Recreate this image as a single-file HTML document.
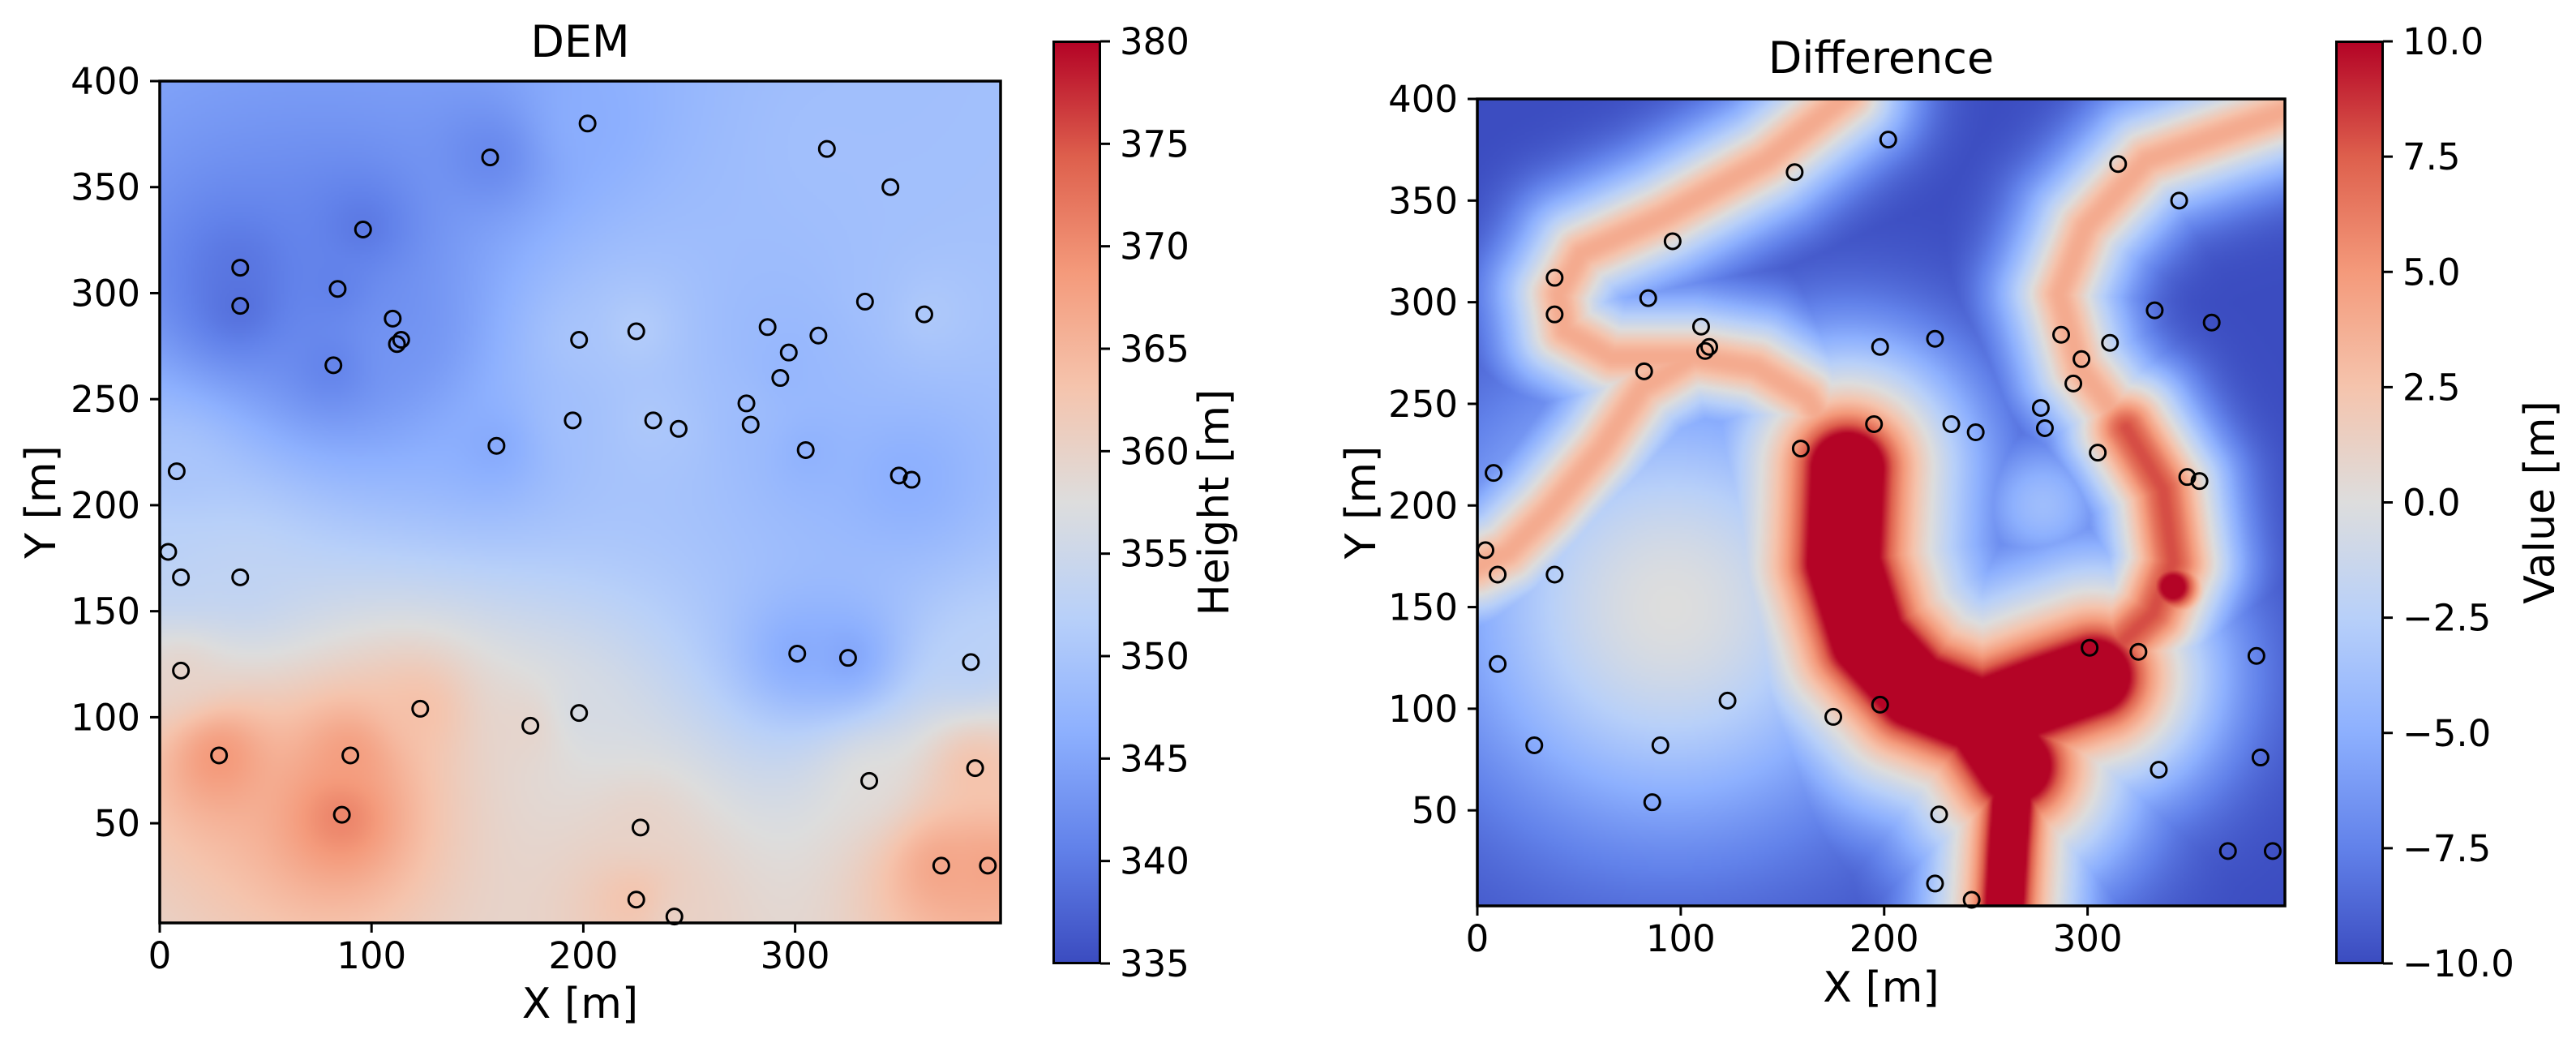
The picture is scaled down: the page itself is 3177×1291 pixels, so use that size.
<!DOCTYPE html>
<html><head><meta charset="utf-8">
<style>
html,body{margin:0;padding:0;background:#fff;}
#root{position:relative;width:3177px;height:1291px;overflow:hidden;background:#fff;font-family:"DejaVu Sans","Liberation Sans",sans-serif;}
canvas{position:absolute;}
svg{position:absolute;left:0;top:0;}
.cbar{position:absolute;box-sizing:border-box;border:3px solid #000;background:linear-gradient(to top,#3b4cc0 0%,#6282ea 12.5%,#8db0fe 25%,#b8d0f9 37.5%,#dddddd 50%,#f5c4ad 62.5%,#f49a7b 75%,#de604d 87.5%,#b40426 100%);}
</style></head>
<body>
<div id="root">
<canvas id="demCanvas" width="397" height="397" style="left:197px;top:100px;width:1037px;height:1038px;"></canvas>
<canvas id="diffCanvas" width="397" height="397" style="left:1822px;top:122px;width:996px;height:995px;"></canvas>
<div class="cbar" style="left:1298px;top:50px;width:60px;height:1139px;"></div>
<div class="cbar" style="left:2880px;top:50px;width:60px;height:1139px;"></div>
<svg id="ov" width="3177" height="1291"></svg>
</div>
<script>
// ---- data ----
const pointsX = [202,156,315,345,96,38,38,84,110,112,114,82,198,225,333,361,287,297,311,293,277,279,195,233,245,159,305,349,355,8,4,10,38,10,301,325,383,123,175,198,28,90,86,335,385,227,369,391,225,243];
const pointsY = [380,364,368,350,330,312,294,302,288,276,278,266,278,282,296,290,284,272,280,260,248,238,240,240,236,228,226,214,212,216,178,166,166,122,130,128,126,104,96,102,82,82,54,70,76,48,30,30,14,6];
const demHeights = [346,341,349,349,339,339,338,340,342,343,343,340,350,352,349,351,348,347,348,347,349,348,349,351,350,345,346,346,346,350,352,353,353,360,345,344,352,364,360,356,370,369,372,358,364,360,368,368,364,360];
const xTicks = [0,100,200,300];
const yTicks = [50,100,150,200,250,300,350,400];
const demCbarTicks = [335,340,345,350,355,360,365,370,375,380];
const diffCbarTicks = [-10,-7.5,-5,-2.5,0,2.5,5,7.5,10];
const diffCbarLabels = ["\u221210.0","\u22127.5","\u22125.0","\u22122.5","0.0","2.5","5.0","7.5","10.0"];
// difference field features (polylines in data coords)
const upperBandX = [182,142,91,51,40,43,66,106,137,162,175];
const upperBandY = [402,370,342,324,304,286,273,273,268,253,233];
const leftBranchX = [106,81,61,35,15,0];
const leftBranchY = [273,258,228,197,177,170];
const rightBandX = [400,329,299,286,296,319];
const rightBandY = [395,370,337,304,268,238];
const rightLowerX = [319,337,342,332,311];
const rightLowerY = [238,208,172,147,127];
const coreX = [182,180,192,215,248,264];
const coreY = [218,172,134,109,96,72];
const coreLowX = [264,261,259];
const coreLowY = [72,33,0];
const coreBranchX = [248,280,303];
const coreBranchY = [96,108,116];

// ---- layout ----
const L = {x0:197,x1:1234,y0:1138,y1:100,dx:[0,397],dy:[3,400]};
const R = {x0:1822,x1:2818,y0:1117,y1:122,dx:[0,397],dy:[3,400]};
function sx(a,v){return a.x0+(v-a.dx[0])/(a.dx[1]-a.dx[0])*(a.x1-a.x0);}
function sy(a,v){return a.y0+(v-a.dy[0])/(a.dy[1]-a.dy[0])*(a.y1-a.y0);}

const CM=[[59,76,192],[98,130,234],[141,176,254],[184,208,249],[221,221,221],[245,196,173],[244,154,123],[222,96,77],[180,4,38]];
function cmap(t){t=Math.max(0,Math.min(1,t));const f=t*8;const i=Math.min(7,Math.floor(f));const r=f-i;const a=CM[i],b=CM[i+1];return [a[0]+(b[0]-a[0])*r,a[1]+(b[1]-a[1])*r,a[2]+(b[2]-a[2])*r];}

function drawField(id,fn,vmin,vmax){
  const c=document.getElementById(id),ctx=c.getContext('2d');
  const img=ctx.createImageData(397,397);
  for(let j=0;j<397;j++){const y=400-j-0.5;for(let i=0;i<397;i++){const x=i+0.5;
    const col=cmap((fn(x,y)-vmin)/(vmax-vmin));const k=(j*397+i)*4;
    img.data[k]=col[0];img.data[k+1]=col[1];img.data[k+2]=col[2];img.data[k+3]=255;}}
  ctx.putImageData(img,0,0);
}
function dem(x,y){let s=0,w=0;for(let k=0;k<pointsX.length;k++){const dx=x-pointsX[k],dy=y-pointsY[k];const ww=1/Math.pow(dx*dx+dy*dy+150,1.2);s+=ww*demHeights[k];w+=ww;}return s/w;}
function dpl(px,py,xs,ys){let m=1e9;for(let k=0;k<xs.length-1;k++){const ax=xs[k],ay=ys[k],bx=xs[k+1],by=ys[k+1];const vx=bx-ax,vy=by-ay;let t=((px-ax)*vx+(py-ay)*vy)/(vx*vx+vy*vy);t=Math.max(0,Math.min(1,t));const ex=ax+t*vx-px,ey=ay+t*vy-py;const d=Math.sqrt(ex*ex+ey*ey);if(d<m)m=d;}return m;}
function g(d,w){return Math.exp(-(d/w)*(d/w));}
function band(d,amp){return -10+(amp-3)*g(d,32)+3*g(d,12);}
function diff(x,y){
  let v=-10;
  const du=Math.min(dpl(x,y,upperBandX,upperBandY),dpl(x,y,leftBranchX,leftBranchY));
  v=Math.max(v,band(du,14));
  v=Math.max(v,band(dpl(x,y,rightBandX,rightBandY),14));
  v=Math.max(v,band(dpl(x,y,rightLowerX,rightLowerY),18));
  const dc=Math.min(dpl(x,y,coreX,coreY),dpl(x,y,coreBranchX,coreBranchY));
  v=Math.max(v,-10+16*g(dc,60)+10*g(dc,22));
  const dl=dpl(x,y,coreLowX,coreLowY);
  v=Math.max(v,-10+15*g(dl,40)+10*g(dl,12));
  v=Math.max(v,-10+22*g(Math.hypot(x-342,y-160),18));
  v=Math.max(v,-10+10*g(Math.hypot(x-95,y-150),110));
  v=Math.max(v,-10+6*g(Math.hypot(x-278,y-200),35));
  v=Math.max(v,-10+6*g(Math.hypot(x-330,y-90),45));
  return Math.max(-10,Math.min(10,v));
}
drawField('demCanvas',dem,335,380);
drawField('diffCanvas',diff,-10,10);

// ---- overlay ----
const NS='http://www.w3.org/2000/svg';
const ov=document.getElementById('ov');
function el(tag,attrs,txt){const e=document.createElementNS(NS,tag);for(const k in attrs)e.setAttribute(k,attrs[k]);if(txt!==undefined)e.textContent=txt;ov.appendChild(e);return e;}

function axes(a,pfx,title,titleY,xlabY,ylabX){
  [[xTicks,'x'],[yTicks,'y']].forEach(([ticks,ax])=>{
    ticks.forEach(t=>{
      if(ax==='x'){const X=sx(a,t);
        const tk=el('line',{x1:X,x2:X,y1:a.y0,y2:a.y0+12,stroke:'#000','stroke-width':3});
        
        
        const lb=el('text',{x:X,y:a.y0+56,'font-size':45,'text-anchor':'middle'},String(t));
        
        
      }else{const Y=sy(a,t);
        const tk=el('line',{x1:a.x0-12,x2:a.x0,y1:Y,y2:Y,stroke:'#000','stroke-width':3});
        
        
        const lb=el('text',{x:a.x0-24,y:Y+16,'font-size':45,'text-anchor':'end'},String(t));
        
        
      }
    });
  });
  for(let k=0;k<pointsX.length;k++){
    const c=el('circle',{cx:sx(a,pointsX[k]),cy:sy(a,pointsY[k]),r:9.5,fill:'none',stroke:'#000','stroke-width':3});
    
    
  }
  const fr=el('rect',{x:a.x0,y:a.y1,width:a.x1-a.x0,height:a.y0-a.y1,fill:'none',stroke:'#000','stroke-width':3.5});
  
  
  const tt=el('text',{x:(a.x0+a.x1)/2,y:titleY,'font-size':54,'text-anchor':'middle'},title);
  
  
  const xl=el('text',{x:(a.x0+a.x1)/2,y:xlabY,'font-size':52,'text-anchor':'middle'},'X [m]');
  
  
  const cy=(a.y0+a.y1)/2;
  const yl=el('text',{x:ylabX,y:cy,'font-size':52,'text-anchor':'middle',transform:'rotate(-90 '+ylabX+' '+cy+')'},'Y [m]');
  
  
}
axes(L,'dem','DEM',70,1255,68);
axes(R,'diff','Difference',90,1235,1696);

function cbar(x,ticks,labels,vmin,vmax,pfx,title,tx){
  const top=51,bot=1188;
  ticks.forEach((t,i)=>{
    const Y=bot+(t-vmin)/(vmax-vmin)*(top-bot);
    const tk=el('line',{x1:x+58,x2:x+70,y1:Y,y2:Y,stroke:'#000','stroke-width':3});
    
    
    const lb=el('text',{x:x+82,y:Y+16,'font-size':45},labels[i]);
    
    
  });
  const cy=(top+bot)/2;
  const t=el('text',{x:tx,y:cy,'font-size':52,'text-anchor':'middle',transform:'rotate(-90 '+tx+' '+cy+')'},title);
  
  
}
cbar(1299,demCbarTicks,demCbarTicks.map(String),335,380,'dem','Height [m]',1515);
cbar(2881,diffCbarTicks,diffCbarLabels,-10,10,'diff','Value [m]',3150);
</script>
</body></html>
